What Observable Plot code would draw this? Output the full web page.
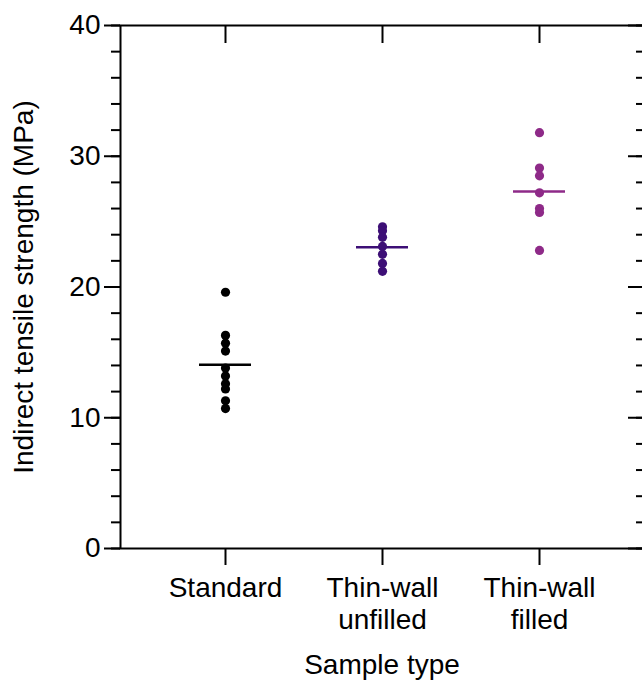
<!DOCTYPE html>
<html>
<head>
<meta charset="utf-8">
<script src="https://cdn.jsdelivr.net/npm/d3@7"></script>
<script src="https://cdn.jsdelivr.net/npm/@observablehq/plot@0.6"></script>
<style>
  html, body { margin: 0; padding: 0; background: #fff; }
</style>
</head>
<body>
<div id="chart"></div>
<script>
const categories = ["Standard", "Thin-wall unfilled", "Thin-wall filled"];
const tickLabels = ["Standard", "Thin-wall\nunfilled", "Thin-wall\nfilled"];
const colors = ["#000000", "#3d0f76", "#8e2a88"];
const standardValues = [19.6, 16.3, 15.7, 15.1, 13.8, 13.2, 12.6, 12.2, 11.3, 10.7];
const unfilledValues = [24.6, 24.3, 23.8, 23.1, 22.5, 21.8, 21.2];
const filledValues = [31.8, 29.1, 28.5, 27.2, 26.0, 25.7, 22.8];
const yMajorTicks = [0, 10, 20, 30, 40];
const yMinorTicks = d3.range(0, 41, 2);

const data = [
  ...standardValues.map(v => ({type: categories[0], value: v})),
  ...unfilledValues.map(v => ({type: categories[1], value: v})),
  ...filledValues.map(v => ({type: categories[2], value: v}))
];

const font = "'Liberation Sans', Arial, Helvetica, sans-serif";

const chart = Plot.plot({
  width: 642,
  height: 680,
  marginTop: 25,
  marginBottom: 132,
  marginLeft: 120,
  marginRight: -1,
  style: {fontFamily: font, fontSize: "28px", color: "#000", background: "#fff"},
  x: {type: "band", domain: categories, paddingInner: 0.67, paddingOuter: 0.495, label: null},
  y: {domain: [0, 40], label: null},
  color: {domain: categories, range: colors},
  marks: [
    Plot.frame({stroke: "#000", strokeWidth: 2}),
    Plot.axisY(yMinorTicks, {anchor: "left", tickSize: 9, tickFormat: () => "", strokeWidth: 2, label: null}),
    Plot.axisY(yMajorTicks, {anchor: "left", tickSize: 16, tickPadding: 4, strokeWidth: 2, label: null, fontSize: 28}),
    Plot.axisY(yMinorTicks, {anchor: "right", tickSize: -8, tickFormat: () => "", strokeWidth: 2, label: null}),
    Plot.axisY(yMajorTicks, {anchor: "right", tickSize: -16, tickFormat: () => "", strokeWidth: 2, label: null}),
    Plot.axisX({anchor: "bottom", tickSize: 17, tickPadding: 9, strokeWidth: 2, label: null, fontSize: 28, lineHeight: 1.14,
      tickFormat: d => tickLabels[categories.indexOf(d)]}),
    Plot.axisX({anchor: "top", tickSize: -17, tickFormat: () => "", strokeWidth: 2, label: null}),
    Plot.dot(data, {x: "type", y: "value", fill: "type", r: 4.6}),
    Plot.tickY(data, Plot.groupX({y: "mean"}, {x: "type", y: "value", stroke: "type", strokeWidth: 2.5})),
    Plot.text(["Indirect tensile strength (MPa)"], {frameAnchor: "left", textAnchor: "middle", lineAnchor: "middle", rotate: -90, dx: -96, fontSize: 28, fill: "#000"}),
    Plot.text(["Sample type"], {frameAnchor: "bottom", lineAnchor: "top", dy: 106, fontSize: 28, fill: "#000"})
  ]
});

document.getElementById("chart").appendChild(chart);
</script>
</body>
</html>
